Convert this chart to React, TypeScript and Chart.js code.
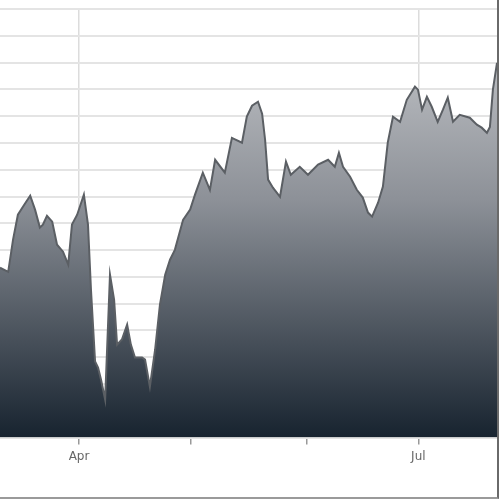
import { useEffect, useRef } from "react"
import { Chart, registerables } from "chart.js"

Chart.register(...registerables)

// days counted from 1 April (negative = March)
const days = [
  -21.2, -19.0, -17.7, -16.4, -14.7, -13.1, -11.8, -10.5, -9.7, -8.6, -7.2, -5.9, -4.3, -2.9,
  -1.9, -0.5, 1.3, 2.4, 3.2, 4.3, 5.1, 5.9, 7.0, 8.3, 9.4, 10.2, 11.5, 12.9, 13.9, 15.0, 16.9,
  17.7, 19.0, 20.4, 21.7, 23.1, 24.4, 25.7, 27.9, 29.8, 31.1, 33.2, 35.1, 36.5, 39.1, 41.0,
  43.7, 45.0, 46.4, 48.0, 49.1, 49.9, 50.7, 52.0, 53.9, 55.5, 56.8, 59.2, 61.4, 64.1, 66.8,
  68.6, 69.7, 70.8, 72.7, 74.5, 76.1, 77.5, 78.6, 80.2, 81.5, 82.8, 84.2, 86.1, 87.9, 90.1,
  90.9, 92.0, 93.3, 94.6, 96.2, 97.6, 98.9, 100.3, 102.1, 104.8, 106.7, 108.0, 109.4, 110.2,
  111.0, 112.1,
]

const values = [
  63.4, 61.9, 73.9, 83.2, 86.9, 90.3, 85.1, 78.4, 79.5, 82.8, 80.6, 72.0, 69.4, 64.6,
  79.5, 83.2, 90.7, 79.5, 55.2, 28.4, 26.1, 21.6, 14.2, 60.8, 51.5, 34.7, 36.6, 42.2, 34.7, 29.9, 29.9,
  29.1, 19.0, 32.8, 49.6, 60.8, 66.4, 70.1, 81.3, 85.1, 90.7, 98.9, 92.5, 103.7, 98.9, 111.9,
  110.1, 119.8, 123.9, 125.4, 120.9, 111.2, 96.3, 93.3, 89.9, 103.0, 98.1, 101.1, 98.1, 101.9, 103.7,
  101.1, 106.3, 101.1, 97.4, 92.5, 89.6, 84.0, 82.5, 87.7, 93.7, 110.1, 119.8, 117.9, 126.1, 131.0,
  129.9, 122.4, 127.2, 123.5, 117.9, 122.4, 126.9, 117.9, 120.5, 119.4, 116.8, 115.7, 113.8, 116.0,
  129.9, 139.9,
]

// month starts (days from 1 April) and their labels
const monthTicks = [0, 30, 61, 91]
const monthLabels = ["Apr", "", "", "Jul"]

const App = () => {
  const canvasRef = useRef<HTMLCanvasElement>(null)
  const chartRef = useRef<Chart | null>(null)

  useEffect(() => {
    if (!canvasRef.current) return
    const ctx = canvasRef.current.getContext("2d")
    if (!ctx) return

    chartRef.current = new Chart(ctx, {
      type: "line",
      data: {
        datasets: [
          {
            data: days.map((d, i) => ({ x: d, y: values[i] })),
            borderColor: "#5b5f64",
            borderWidth: 2,
            pointRadius: 0,
            tension: 0,
            fill: "start",
            backgroundColor: (c: any) => {
              const area = c.chart.chartArea
              if (!area) return "#7a7f87"
              const g = c.chart.ctx.createLinearGradient(0, area.top, 0, area.bottom)
              g.addColorStop(0, "#cbcdd0")
              g.addColorStop(0.45, "#8c9097")
              g.addColorStop(1, "#17232f")
              return g
            },
          },
        ],
      },
      options: {
        animation: false,
        responsive: true,
        maintainAspectRatio: false,
        layout: { padding: { top: 9, right: 0, bottom: 28, left: 0 } },
        plugins: { legend: { display: false }, tooltip: { enabled: false } },
        scales: {
          x: {
            type: "linear",
            min: -21.2,
            max: 112.1,
            afterBuildTicks: (axis: any) => {
              axis.ticks = monthTicks.map((v) => ({ value: v }))
            },
            ticks: {
              autoSkip: false,
              maxRotation: 0,
              padding: 5,
              color: "#666",
              font: { family: "'DejaVu Sans', sans-serif", size: 12 },
              callback: (v: any) => monthLabels[monthTicks.indexOf(Number(v))] ?? "",
            },
            grid: {
              color: (c: any) => (c.tick && c.tick.value % 91 === 0 ? "#dcdcdc" : "rgba(0,0,0,0)"),
              tickColor: "#999",
              tickLength: 7,
              lineWidth: 1.5,
            },
            border: { display: false },
          },
          y: {
            min: 0,
            max: 160,
            ticks: { display: false, stepSize: 10 },
            grid: { color: "#e4e4e4", lineWidth: 2, drawTicks: false },
            border: { display: false },
          },
        },
      },
    })

    return () => {
      chartRef.current?.destroy()
    }
  }, [])

  return (
    <div
      style={{
        position: "absolute",
        left: 0,
        top: 0,
        width: 497,
        height: 497,
        borderRight: "2px solid #6a6a6a",
        borderBottom: "2px solid #9a9a9a",
        background: "#fff",
      }}
    >
      <canvas ref={canvasRef} />
    </div>
  )
}

export default App
